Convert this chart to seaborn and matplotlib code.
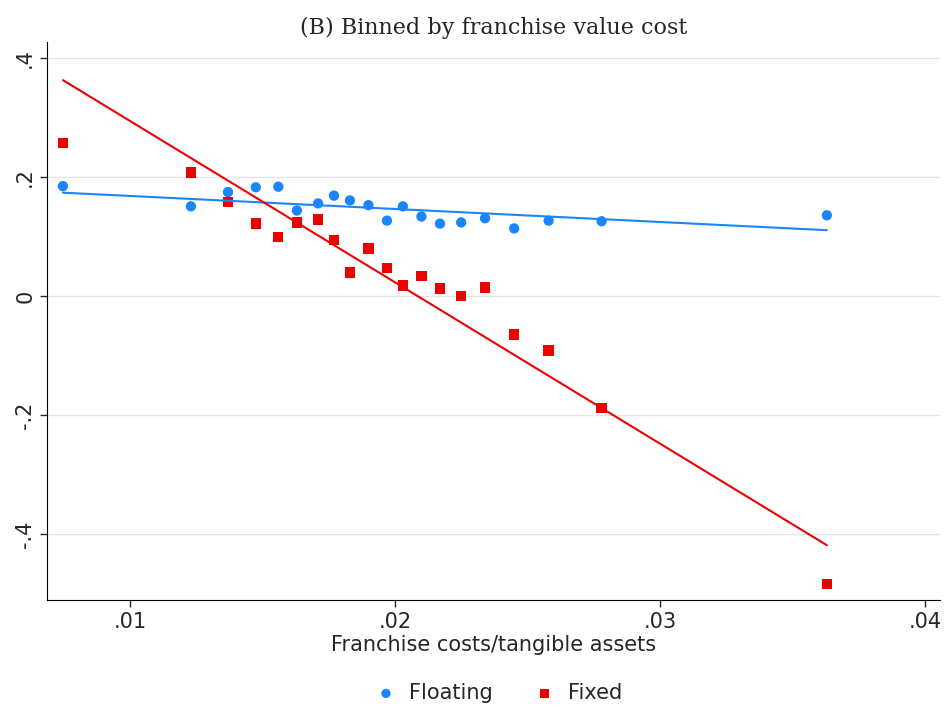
import numpy as np
import seaborn as sns
import matplotlib.pyplot as plt

x = [0.00747, 0.0123, 0.0137, 0.01475, 0.0156, 0.0163, 0.0171, 0.0177, 0.0183, 0.0190,
     0.0197, 0.0203, 0.0210, 0.0217, 0.0225, 0.0234, 0.0245, 0.0258, 0.0278, 0.0363]
floating = [0.185, 0.151, 0.175, 0.183, 0.184, 0.144, 0.156, 0.169, 0.161, 0.153,
            0.127, 0.151, 0.134, 0.122, 0.124, 0.131, 0.114, 0.127, 0.126, 0.136]
fixed = [0.257, 0.208, 0.158, 0.122, 0.099, 0.124, 0.129, 0.094, 0.040, 0.080,
         0.047, 0.018, 0.034, 0.013, 0.0, 0.015, -0.064, -0.091, -0.188, -0.483]
fit_x = [0.00747, 0.0363]
fit_float = [0.174, 0.111]
fit_fixed = [0.363, -0.418]

sns.set_style("white")
plt.rcParams['font.family'] = ['DejaVu Sans']
fig = plt.figure(figsize=(9.46, 7.13), dpi=100)
ax = fig.add_axes([47/946, 113/713, 893/946, 558/713])

blue, red = '#1a85ff', '#ee0000'
sns.lineplot(x=fit_x, y=fit_float, color=blue, lw=1.5, ax=ax, legend=False)
sns.lineplot(x=fit_x, y=fit_fixed, color=red, lw=1.5, ax=ax, legend=False)
sns.scatterplot(x=x, y=floating, color=blue, marker='o', s=55, edgecolor='none', ax=ax, label='Floating')
sns.scatterplot(x=x, y=fixed, color=red, marker='s', s=55, edgecolor='none', ax=ax, label='Fixed')

ax.set_xlim(0.00687, 0.04057)
ax.set_ylim(-0.51, 0.427)
ax.set_xticks([0.01, 0.02, 0.03, 0.04])
ax.set_xticklabels(['.01', '.02', '.03', '.04'], fontsize=15)
ax.set_yticks([0.4, 0.2, 0, -0.2, -0.4])
ax.set_yticklabels(['.4', '.2', '0', '-.2', '-.4'], fontsize=15, rotation=90, va='center')
ax.yaxis.grid(True, color='#e6e6e6', lw=1)
ax.tick_params(axis='both', length=5, width=1, direction='out', left=True, bottom=True)
for s in ['top', 'right']:
    ax.spines[s].set_visible(False)
for s in ['left', 'bottom']:
    ax.spines[s].set_color('black')
ax.set_xlabel('Franchise costs/tangible assets', fontsize=15, labelpad=2)
ax.set_title('(B) Binned by franchise value cost', fontsize=16, family='DejaVu Serif', pad=6)
ax.legend(loc='upper center', bbox_to_anchor=(0.5, -0.115), ncol=2, frameon=False,
          fontsize=15, handletextpad=0.1, columnspacing=1.5, markerscale=0.9)
fig.savefig('out.png', dpi=100)
